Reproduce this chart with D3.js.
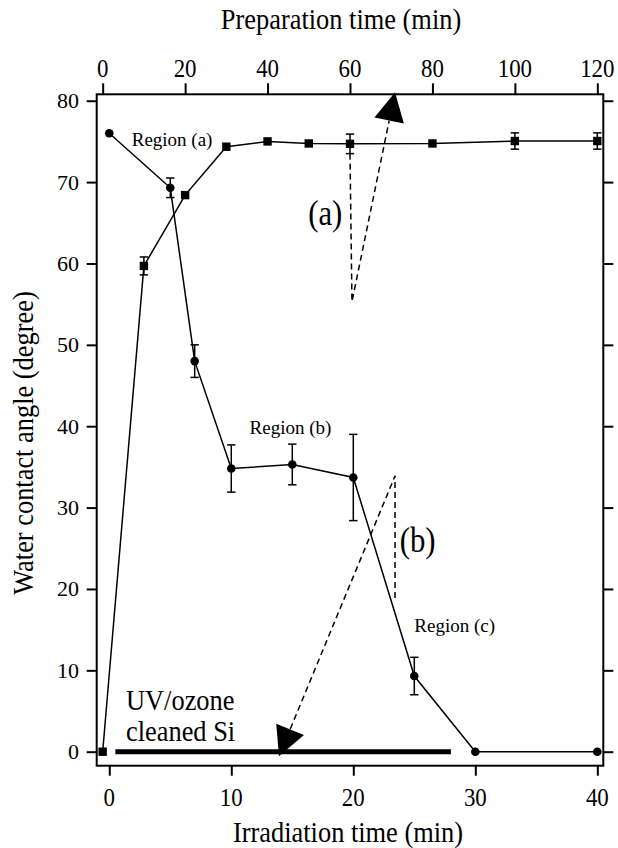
<!DOCTYPE html>
<html><head><meta charset="utf-8">
<script src="https://cdn.jsdelivr.net/npm/d3@7"></script>
<style>body{margin:0;background:#fff}</style>
</head><body>
<svg id="c" width="618" height="848"></svg>
<script>
// ---- data ----
const irrTimes  = [0, 5, 7, 10, 15, 20, 25, 30, 40];
const irrAngles = [76.0, 69.3, 48.0, 34.8, 35.3, 33.7, 9.3, 0, 0];
const irrErrors = [0, 1.2, 2.0, 2.9, 2.5, 5.3, 2.3, 0, 0];
const prepTimes  = [0, 10, 20, 30, 40, 50, 60, 80, 100, 120];
const prepAngles = [0, 59.7, 68.4, 74.35, 75.0, 74.75, 74.7, 74.75, 75.05, 75.05];
const prepErrors = [0, 1.1, 0, 0, 0, 0, 1.2, 0, 1.0, 1.0];
const bottomTicks = [0, 10, 20, 30, 40];
const topTicks = [0, 20, 40, 60, 80, 100, 120];
const yTicks = [0, 10, 20, 30, 40, 50, 60, 70, 80];
const cleanedBar = [0.5, 28];
const regionLabels = [
  {t: "Region (a)", x: 1.84, y: 74.4},
  {t: "Region (b)", x: 11.5, y: 39.0},
  {t: "Region (c)", x: 25.0, y: 14.7}
];
const bigLabels = [
  {t: "(a)", x: 16.3, y: 64.7},
  {t: "(b)", x: 23.8, y: 24.6}
];
// arrows: dashed leg start -> apex -> arrow tip (irradiation-min, degree)
const arrowA = {p0: [19.73, 73.5], p1: [19.89, 55.3], tip: [23.42, 81.05]};
const arrowB = {p0: [23.42, 18.9], p1: [23.42, 33.9], tip: [13.91, -0.55]};

// ---- layout ----
const L = 96.7, R = 603.3, T = 94.3, B = 765.7;
const svg = d3.select("#c");
const x = d3.scaleLinear().domain([-1.03, 40.49]).range([L, R]);
const xTop = d3.scaleLinear().domain([0, 120]).range([x(-0.54), x(40)]);
const y = d3.scaleLinear().domain([-1.72, 80.79]).range([B, T]);
const FONT = "Liberation Serif, Times New Roman, serif";
const SX = 0.88;

function ctext(g, str, px, py, size, anchor, sx, rot) {
  return g.append("text")
    .attr("transform", `translate(${px},${py})` + (rot ? ` rotate(${rot})` : "") + ` scale(${sx},1)`)
    .attr("text-anchor", anchor || "start")
    .attr("font-family", FONT).attr("font-size", size).attr("fill", "#000")
    .text(str);
}

// axes
const gB = svg.append("g").attr("transform", `translate(0,${B})`)
  .call(d3.axisBottom(x).tickValues(bottomTicks).tickSize(10).tickFormat(""));
const gT = svg.append("g").attr("transform", `translate(0,${T})`)
  .call(d3.axisTop(xTop).tickValues(topTicks).tickSize(11).tickFormat(""));
const gL = svg.append("g").attr("transform", `translate(${L},0)`)
  .call(d3.axisLeft(y).tickValues(yTicks).tickSize(10).tickFormat(""));
const gR = svg.append("g").attr("transform", `translate(${R},0)`)
  .call(d3.axisRight(y).tickValues(yTicks).tickSize(10).tickFormat(""));
[gB, gT, gL, gR].forEach(g => {
  g.select(".domain").remove();
  g.selectAll("line").attr("stroke", "#000").attr("stroke-width", 2);
});
bottomTicks.forEach(v => ctext(svg, String(v), x(v), 806, 26, "middle", SX));
topTicks.forEach(v => ctext(svg, String(v), xTop(v), 77, 26, "middle", SX));
yTicks.forEach(v => ctext(svg, String(v), 79, y(v) + 7.5, 22, "end", 1));

// frame
svg.append("rect").attr("x", L).attr("y", T).attr("width", R - L).attr("height", B - T)
  .attr("fill", "none").attr("stroke", "#000").attr("stroke-width", 2);

// titles
ctext(svg, "Irradiation time (min)", 348, 842, 30, "middle", SX);
ctext(svg, "Preparation time (min)", 341, 29, 30, "middle", SX);
ctext(svg, "Water contact angle (degree)", 33, 443, 30, "middle", SX, -90);

// thick bar
svg.append("line").attr("x1", x(cleanedBar[0])).attr("x2", x(cleanedBar[1]))
  .attr("y1", y(0)).attr("y2", y(0)).attr("stroke", "#000").attr("stroke-width", 5);

// series
const irr = irrTimes.map((t, i) => ({px: x(t), v: irrAngles[i], e: irrErrors[i]}));
const prep = prepTimes.map((t, i) => ({px: xTop(t), v: prepAngles[i], e: prepErrors[i]}));
const line = d3.line().x(d => d.px).y(d => y(d.v));
[irr, prep].forEach(s => {
  svg.append("path").attr("d", line(s)).attr("fill", "none")
    .attr("stroke", "#000").attr("stroke-width", 1.5);
  const eb = s.filter(d => d.e > 0);
  const ge = svg.append("g").attr("stroke", "#000").attr("stroke-width", 1.5);
  eb.forEach(d => {
    ge.append("line").attr("x1", d.px).attr("x2", d.px).attr("y1", y(d.v - d.e)).attr("y2", y(d.v + d.e));
    [d.v - d.e, d.v + d.e].forEach(v => ge.append("line")
      .attr("x1", d.px - 4.2).attr("x2", d.px + 4.2).attr("y1", y(v)).attr("y2", y(v)));
  });
});
svg.append("g").selectAll("circle").data(irr).join("circle")
  .attr("cx", d => d.px).attr("cy", d => y(d.v)).attr("r", 4.3).attr("fill", "#000");
svg.append("g").selectAll("rect").data(prep).join("rect")
  .attr("x", d => d.px - 4.2).attr("y", d => y(d.v) - 4.2).attr("width", 8.4).attr("height", 8.4).attr("fill", "#000");

// labels
regionLabels.forEach(l => ctext(svg, l.t, x(l.x), y(l.y), 19, "start", 1));
bigLabels.forEach(l => ctext(svg, l.t, x(l.x), y(l.y), 35, "start", SX));
ctext(svg, "UV/ozone", x(1.37), y(5.12), 30, "start", SX);
ctext(svg, "cleaned Si", x(1.37), y(1.3), 30, "start", SX);

// arrows
function arrow(a) {
  const p0 = [x(a.p0[0]), y(a.p0[1])], p1 = [x(a.p1[0]), y(a.p1[1])], pt = [x(a.tip[0]), y(a.tip[1])];
  const dx = pt[0] - p1[0], dy = pt[1] - p1[1], len = Math.hypot(dx, dy);
  const ux = dx / len, uy = dy / len, hl = 29, hw = 15;
  const bx = pt[0] - ux * hl, by = pt[1] - uy * hl;
  svg.append("path").attr("d", `M${p0[0]},${p0[1]}L${p1[0]},${p1[1]}L${bx},${by}`)
    .attr("fill", "none").attr("stroke", "#000").attr("stroke-width", 1.5).attr("stroke-dasharray", "6,4");
  svg.append("path").attr("d",
    `M${pt[0]},${pt[1]}L${bx - uy * hw},${by + ux * hw}L${bx + uy * hw},${by - ux * hw}Z`)
    .attr("fill", "#000");
}
arrow(arrowA);
arrow(arrowB);
</script>
</body></html>
